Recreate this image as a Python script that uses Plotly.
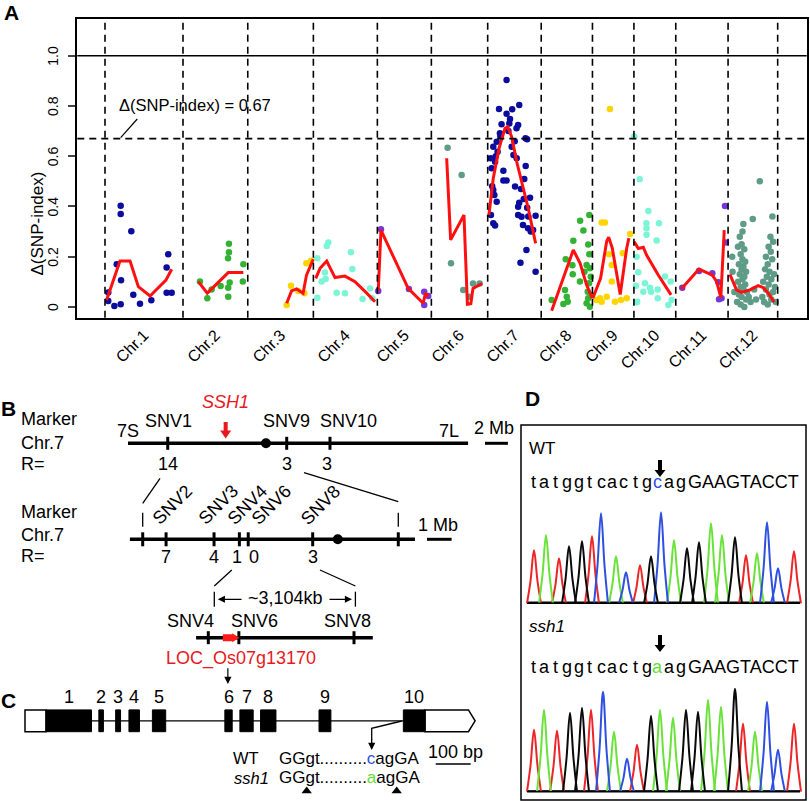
import plotly.graph_objects as go

FONT = "Liberation Sans, Arial, Helvetica, sans-serif"

# ---------------- Panel A data: delta SNP-index along the 12 rice chromosomes ----------------
chr_names = ["Chr.1", "Chr.2", "Chr.3", "Chr.4", "Chr.5", "Chr.6",
             "Chr.7", "Chr.8", "Chr.9", "Chr.10", "Chr.11", "Chr.12"]
chr_len_mb = [43.27, 35.94, 36.41, 35.50, 29.96, 31.25, 29.70, 28.44, 23.01, 23.21, 29.02, 27.53]
y_ticks = [0, 0.2, 0.4, 0.6, 0.8, 1.0]
y_tick_text = ["0", "0.2", "0.4", "0.6", "0.8", "1.0"]
threshold = 0.67

# SNP positions (Mb from chromosome start) and delta(SNP-index)
chr1_pos = [1.8, 1.8, 5.2, 8.7, 8.7, 8.7, 6.5, 8.9, 14.6, 15.7, 19.4, 25.7, 35.1, 34.2, 34.2, 37.0]
chr1_val = [0.058, 0.024, 0.004, 0.011, 0.403, 0.370, 0.170, 0.106, 0.301, 0.049, 0.013, 0.027, 0.210, 0.157, 0.057, 0.057]
chr2_pos = [9.4, 13.5, 15.9, 20.9, 25.5, 25.5, 25.0, 25.9, 25.1, 25.1, 33.5, 33.2]
chr2_val = [0.101, 0.035, 0.070, 0.084, 0.252, 0.218, 0.194, 0.097, 0.077, 0.041, 0.170, 0.101]
chr3_pos = [21.6, 24.0, 28.0, 31.4, 32.5, 35.1]
chr3_val = [0.008, 0.085, 0.064, 0.055, 0.174, 0.184]
chr4_pos = [2.2, 7.4, 8.3, 6.4, 4.6, 6.8, 2.2, 12.9, 17.5, 20.8, 21.6, 27.3, 31.4, 32.7]
chr4_val = [0.194, 0.243, 0.257, 0.137, 0.101, 0.111, 0.037, 0.057, 0.055, 0.218, 0.151, 0.032, 0.074, 0.035]
chr5_pos = [2.0, 0.5, 17.5, 26.0, 28.2, 26.0]
chr5_val = [0.309, 0.064, 0.072, 0.061, 0.044, 0.008]
chr6_pos = [9.0, 16.8, 10.9, 17.7, 23.1, 26.8, 21.4]
chr6_val = [0.634, 0.525, 0.174, 0.068, 0.093, 0.093, 0.041]
chr7_pos = [10.5, 6.3, 10.5, 12.4, 13.6, 17.5, 7.7, 6.8, 16.9, 16.0, 21.0, 21.9, 5.0, 3.1, 5.5, 1.7,
            4.1, 2.2, 8.7, 14.3, 16.1, 21.1, 8.7, 10.5, 3.1, 3.7, 5.0, 20.3, 18.5, 23.5, 17.5, 21.9,
            1.8, 16.9, 18.8, 26.6, 3.1, 4.1, 19.6, 22.4, 23.9, 25.2, 21.5, 18.2, 26.6, 15.2, 16.9,
            13.3, 11.5, 7.0, 4.5, 20.0, 22.5, 2.5, 15.0, 12.0]
chr7_val = [0.903, 0.788, 0.769, 0.748, 0.787, 0.804, 0.727, 0.691, 0.724, 0.711, 0.671, 0.667,
            0.658, 0.638, 0.618, 0.592, 0.578, 0.552, 0.542, 0.605, 0.592, 0.561, 0.503, 0.503,
            0.466, 0.446, 0.419, 0.509, 0.470, 0.435, 0.415, 0.395, 0.366, 0.366, 0.359, 0.363,
            0.333, 0.324, 0.326, 0.313, 0.300, 0.306, 0.227, 0.176, 0.140, 0.479, 0.399, 0.638,
            0.700, 0.680, 0.600, 0.430, 0.360, 0.480, 0.660, 0.730]
chr8_pos = [5.8, 12.3, 13.2, 13.6, 14.2, 14.7, 17.3, 17.5, 17.8, 21.5, 21.6, 23.4, 25.2, 25.2, 25.8,
            26.1, 26.1, 26.5, 26.7, 26.7, 27.0, 27.0, 28.0, 24.0, 27.5]
chr8_val = [0.028, 0.012, 0.068, 0.190, 0.041, 0.021, 0.166, 0.130, 0.264, 0.101, 0.343, 0.304, 0.167,
            0.015, 0.061, 0.249, 0.035, 0.094, 0.366, 0.210, 0.154, 0.001, 0.048, 0.140, 0.120]
chr9_pos = [9.7, 5.1, 6.9, 9.2, 10.7, 10.7, 16.8, 20.9, 2.3, 4.2, 7.9, 5.1, 12.5, 15.8, 19.0]
chr9_val = [0.788, 0.336, 0.336, 0.210, 0.167, 0.101, 0.214, 0.290, 0.028, 0.035, 0.041, 0.021, 0.021, 0.028, 0.035]
chr10_pos = [0.2, 3.2, 8.0, 6.9, 7.0, 7.0, 13.9, 12.6, 1.5, 2.4, 1.1, 6.1, 5.2, 8.9, 9.5, 13.2, 13.2,
             17.2, 20.4, 20.9, 19.1, 1.8, 1.5]
chr10_val = [0.678, 0.508, 0.382, 0.333, 0.313, 0.287, 0.333, 0.265, 0.200, 0.138, 0.085, 0.094, 0.061,
             0.077, 0.061, 0.070, 0.035, 0.121, 0.101, 0.028, 0.008, 0.021, 0.019]
chr11_pos = [3.6, 12.9, 20.3, 23.6, 27.3, 27.7, 24.0, 25.4]
chr11_val = [0.077, 0.143, 0.134, 0.098, 0.402, 0.257, 0.031, 0.035]
chr12_pos = [2.3, 2.5, 3.5, 5.0, 5.5, 5.5, 6.0, 6.0, 6.5, 6.5, 7.0, 7.0, 7.0, 7.5, 7.5, 7.5, 8.0, 8.0,
             8.0, 8.5, 8.5, 8.5, 9.0, 9.0, 9.0, 9.5, 9.5, 10.0, 10.0, 10.5, 11.5, 12.5, 13.7, 14.5,
             15.5, 17.6, 19.0, 19.5, 20.0, 20.5, 21.0, 21.0, 21.5, 22.0, 22.0, 22.5, 22.5, 23.0, 23.0,
             23.5, 23.7, 24.0, 24.0, 24.6, 24.5, 25.0, 25.0, 25.5, 26.0, 26.5]
chr12_val = [0.20, 0.14, 0.06, 0.02, 0.10, 0.24, 0.05, 0.17, 0.13, 0.28, 0.01, 0.08, 0.21, 0.15, 0.25,
             0.04, 0.11, 0.19, 0.30, 0.07, 0.33, 0.16, 0.00, 0.12, 0.23, 0.09, 0.18, 0.03, 0.14, 0.06,
             0.04, 0.02, 0.35, 0.07, 0.03, 0.50, 0.04, 0.10, 0.02, 0.15, 0.07, 0.20, 0.12, 0.01, 0.17,
             0.09, 0.24, 0.05, 0.14, 0.28, 0.22, 0.03, 0.11, 0.36, 0.19, 0.06, 0.26, 0.13, 0.08, 0.02]

# sliding-window fit (red line) per chromosome
chr1_fit_pos = [0.9, 8.3, 13.9, 18.5, 25.0, 33.8, 37.0]
chr1_fit_val = [0.028, 0.183, 0.183, 0.081, 0.044, 0.107, 0.150]
chr2_fit_pos = [8.5, 13.5, 25.1, 33.5]
chr2_fit_val = [0.101, 0.055, 0.137, 0.137]
chr3_fit_pos = [21.6, 24.3, 27.1, 30.7, 32.6, 36.3]
chr3_fit_val = [0.015, 0.064, 0.072, 0.055, 0.127, 0.190]
chr4_fit_pos = [1.3, 3.7, 7.4, 12.0, 17.5, 23.1, 29.6, 34.2]
chr4_fit_val = [0.114, 0.154, 0.183, 0.117, 0.123, 0.101, 0.055, 0.021]
chr5_fit_pos = [0.5, 2.0, 17.1, 25.4, 26.7, 28.2]
chr5_fit_val = [0.064, 0.306, 0.074, 0.015, 0.055, 0.041]
chr6_fit_pos = [8.5, 10.7, 18.1, 20.0, 21.9, 23.1, 25.9, 28.2]
chr6_fit_val = [0.592, 0.267, 0.366, 0.011, 0.013, 0.074, 0.085, 0.093]
chr7_fit_pos = [0.7, 3.1, 6.3, 9.6, 11.1, 13.3, 16.1, 18.9, 22.5, 26.6]
chr7_fit_val = [0.366, 0.512, 0.631, 0.711, 0.717, 0.678, 0.578, 0.492, 0.393, 0.253]
chr8_fit_pos = [5.8, 17.8, 21.6, 25.2, 28.3]
chr8_fit_val = [-0.015, 0.227, 0.174, 0.088, 0.035]
chr9_fit_pos = [0.2, 4.5, 7.9, 9.0, 11.0, 15.4, 19.0, 20.2]
chr9_fit_val = [0.035, 0.114, 0.262, 0.278, 0.234, 0.050, 0.234, 0.274]
chr10_fit_pos = [0.2, 2.4, 5.2, 7.0, 13.5, 20.6]
chr10_fit_val = [0.260, 0.233, 0.238, 0.207, 0.127, 0.048]
chr11_fit_pos = [3.1, 12.9, 20.3, 22.7, 25.0, 26.9]
chr11_fit_val = [0.072, 0.151, 0.127, 0.101, 0.037, 0.306]
chr12_fit_pos = [1.0, 4.7, 7.5, 12.1, 16.7, 19.5, 22.3, 25.6]
chr12_fit_val = [0.130, 0.068, 0.058, 0.068, 0.085, 0.077, 0.055, 0.019]

# ---------------- Panel B data: fine mapping on chromosome 7 ----------------
chr7_len = 29.7
chr7_centromere = 12.05
coarse_markers = ["SNV1", "SNV9", "SNV10"]
coarse_mb = [3.47, 13.86, 17.64]
coarse_r = ["14", "3", "3"]
ssh1_mb = 8.53

fine_markers = ["", "SNV2", "SNV3", "SNV4", "SNV6", "SNV8", ""]
fine_mb = [3.47, 4.42, 6.37, 7.40, 7.76, 10.38, 13.86]
fine_r = ["", "7", "4", "1", "0", "3", ""]
fine_centromere = 11.40
fine_view = [2.95, 14.54]

region_markers = ["SNV4", "SNV6", "SNV8"]
region_mb = [7.40, 8.05, 10.50]
region_view = [7.14, 10.90]
region_label = "~3,104kb"
gene_name = "LOC_Os07g13170"
gene_mb = [7.71, 8.06]

# ---------------- Panel C data: gene model (bp) ----------------
exon_labels = ["1", "2", "3", "4", "5", "6", "7", "8", "9", "10"]
exon_start = [60, 211, 259, 297, 364, 571, 614, 673, 840, 1081]
exon_end = [190, 224, 273, 327, 402, 592, 652, 717, 874, 1143]
utr5 = [0, 60]
utr3 = [1143, 1267, 1286]
wt_site = ["GGgt..........", "c", "agGA"]
mut_site = ["GGgt..........", "a", "agGA"]

# ---------------- Panel D data: Sanger chromatograms ----------------
wt_seq = "tatggtcactgcagGAAGTACCT"
mut_seq = "tatggtcactgaagGAAGTACCT"
snp_idx = 11
wt_peak_scan = [13, 25, 38, 48, 61, 71, 80, 95, 105, 119, 130, 140, 153, 166, 178, 190, 201, 214, 225, 236, 246, 257, 273]
wt_peak_h = [53, 68, 45, 57, 62, 67, 90, 47, 31, 38, 47, 91, 63, 55, 61, 80, 68, 66, 48, 50, 81, 35, 52]
mut_peak_scan = [13, 23, 36, 49, 61, 70, 82, 93, 106, 116, 130, 139, 152, 165, 177, 187, 200, 214, 222, 234, 246, 257, 273]
mut_peak_h = [62, 82, 61, 79, 84, 82, 100, 60, 33, 47, 76, 82, 74, 82, 80, 92, 85, 103, 68, 60, 90, 42, 68]

# ---------------- styles ----------------
palette = ["#0B0B9E", "#34B234", "#FFD400", "#7CF5D6", "#7238DB", "#5E9C88"]
base_color = {"t": "#EC2528", "a": "#69E23A", "c": "#2E4FE0", "g": "#0A0A0A"}
snp_color = {"c": "#3050E0", "a": "#66DD33"}
DASH = "7px,5px"
TS = 18  # text size in panels B-D

fig = go.Figure()

# ===== Panel A =====
cum = [0.0]
for L in chr_len_mb:
    cum.append(cum[-1] + L)
centers = [(cum[i] + cum[i + 1]) / 2 for i in range(len(chr_len_mb))]

snp_pos = [chr1_pos, chr2_pos, chr3_pos, chr4_pos, chr5_pos, chr6_pos,
           chr7_pos, chr8_pos, chr9_pos, chr10_pos, chr11_pos, chr12_pos]
snp_val = [chr1_val, chr2_val, chr3_val, chr4_val, chr5_val, chr6_val,
           chr7_val, chr8_val, chr9_val, chr10_val, chr11_val, chr12_val]
fit_pos = [chr1_fit_pos, chr2_fit_pos, chr3_fit_pos, chr4_fit_pos, chr5_fit_pos, chr6_fit_pos,
           chr7_fit_pos, chr8_fit_pos, chr9_fit_pos, chr10_fit_pos, chr11_fit_pos, chr12_fit_pos]
fit_val = [chr1_fit_val, chr2_fit_val, chr3_fit_val, chr4_fit_val, chr5_fit_val, chr6_fit_val,
           chr7_fit_val, chr8_fit_val, chr9_fit_val, chr10_fit_val, chr11_fit_val, chr12_fit_val]

for i in range(12):
    fig.add_trace(go.Scatter(x=[cum[i] + p for p in snp_pos[i]], y=snp_val[i], mode="markers",
                             marker=dict(size=6.5, color=palette[i % 6]), hoverinfo="skip"))
for i in range(12):
    fig.add_trace(go.Scatter(x=[cum[i] + p for p in fit_pos[i]], y=fit_val[i], mode="lines",
                             line=dict(color="#FF1010", width=3), hoverinfo="skip"))

for b in cum:
    fig.add_shape(type="line", xref="x", yref="y domain", x0=b, x1=b, y0=0, y1=1,
                  line=dict(color="black", width=1.6, dash=DASH))
fig.add_shape(type="line", xref="x domain", yref="y", x0=0, x1=1, y0=threshold, y1=threshold,
              line=dict(color="black", width=1.6, dash=DASH))
fig.add_shape(type="line", xref="x domain", yref="y", x0=0, x1=1, y0=1.0, y1=1.0,
              line=dict(color="black", width=1.5))
fig.add_shape(type="line", xref="x", yref="y", x0=8.7, y0=threshold + 0.004, x1=17.9, y1=0.748,
              line=dict(color="black", width=1.2))
fig.add_annotation(x=6.5, y=0.805, xref="x", yref="y", text="\u0394(SNP-index) = 0.67", showarrow=False,
                   xanchor="left", yanchor="middle", font=dict(size=16.5, family=FONT, color="black"))
fig.add_annotation(x=26 / 810, y=1 - 170 / 801, xref="paper", yref="paper", text="\u0394(SNP-index)",
                   textangle=-90, showarrow=False, font=dict(size=17, family=FONT, color="black"))
for v, lab in zip(y_ticks, y_tick_text):
    fig.add_annotation(x=53 / 810, y=v, xref="paper", yref="y", text=lab, textangle=-90,
                       showarrow=False, xanchor="center", yanchor="middle",
                       font=dict(size=14, family=FONT, color="black"))

# ===== helpers in pixel space (x2/y2) =====
def line(xs, ys, color="black", width=1.2):
    fig.add_trace(go.Scatter(x=xs, y=ys, mode="lines", line=dict(color=color, width=width),
                             xaxis="x2", yaxis="y2", hoverinfo="skip"))


def text(x, y, s, size=TS, color="black", xanchor="center", angle=0):
    fig.add_annotation(x=x, y=y, xref="x2", yref="y2", text=s, showarrow=False, textangle=angle,
                       xanchor=xanchor, yanchor="middle", borderpad=0,
                       font=dict(size=size, color=color, family=FONT))


def arrow(x0, y0, x1, y1, color="black", width=1.2, head=2, size=1.0):
    fig.add_annotation(x=x1, y=y1, ax=x0, ay=y0, xref="x2", yref="y2", axref="x2", ayref="y2",
                       text="", showarrow=True, arrowhead=head, arrowsize=size, arrowwidth=width,
                       arrowcolor=color, standoff=0, startstandoff=0)


def block_down(x, y0, y1, color, shaft=4, head=11, head_len=8):
    yh = y1 - head_len
    p = (f"M{x - shaft / 2},{y0} L{x + shaft / 2},{y0} L{x + shaft / 2},{yh} L{x + head / 2},{yh} "
         f"L{x},{y1} L{x - head / 2},{yh} L{x - shaft / 2},{yh} Z")
    fig.add_shape(type="path", xref="x2", yref="y2", path=p, fillcolor=color, line=dict(width=0))


def block_right(x0, x1, y, color, shaft=7, head=9, head_len=7):
    xh = x1 - head_len
    p = (f"M{x0},{y - shaft / 2} L{xh},{y - shaft / 2} L{xh},{y - head / 2} L{x1},{y} "
         f"L{xh},{y + head / 2} L{xh},{y + shaft / 2} L{x0},{y + shaft / 2} Z")
    fig.add_shape(type="path", xref="x2", yref="y2", path=p, fillcolor=color, line=dict(width=0))


# ===== Panel B =====
text(8, 408, "<b>B</b>", size=21)
for yy, lab in [(419, "Marker"), (442.5, "Chr.7"), (463.5, "R=")]:
    text(20, yy, lab, xanchor="left")
for yy, lab in [(512, "Marker"), (535, "Chr.7"), (555.5, "R=")]:
    text(20, yy, lab, xanchor="left")

B1_X0, B1_S, B1_Y = 128.0, 11.45, 443.3
b1 = lambda mb: B1_X0 + mb * B1_S
line([b1(0), b1(chr7_len)], [B1_Y, B1_Y], width=3.5)
for name, mb, r, ldx, rdx in zip(coarse_markers, coarse_mb, coarse_r, [1, 0, 19], [0, 0, -3]):
    line([b1(mb), b1(mb)], [B1_Y - 6.5, B1_Y + 6.5], width=3)
    text(b1(mb) + ldx, 421, name)
    text(b1(mb) + rdx, 464, r)
fig.add_trace(go.Scatter(x=[b1(chr7_centromere)], y=[B1_Y], mode="markers", xaxis="x2", yaxis="y2",
                         marker=dict(size=10, color="black"), hoverinfo="skip"))
text(b1(0), 431, "7S")
text(b1(chr7_len) - 8, 431, "7L", xanchor="right")
text(b1(ssh1_mb), 402, "<i>SSH1</i>", color="#E8191E")
block_down(b1(ssh1_mb), 422, 438.5, "#E8191E", shaft=4, head=11, head_len=8)
line([485, 485 + 2 * B1_S], [B1_Y, B1_Y], width=3)
text(494, 428, "2 Mb")

B2_REF, B2_X0, B2_S, B2_Y = 3.47, 142.7, 24.6, 539.3
b2 = lambda mb: B2_X0 + (mb - B2_REF) * B2_S
line([b2(fine_view[0]), b2(fine_view[1])], [B2_Y, B2_Y], width=3.5)
fine_label_dx = [0, 6, 4, 8, 23, 8, 0]
fine_r_dx = [0, 0, 0, -2, 6, 0, 0]
for name, mb, r, ldx, rdx in zip(fine_markers, fine_mb, fine_r, fine_label_dx, fine_r_dx):
    line([b2(mb), b2(mb)], [B2_Y - 7, B2_Y + 7], width=3)
    if name:
        text(b2(mb) + ldx, 505, name, angle=-45)
        text(b2(mb) + rdx, 557, r)
    else:
        line([b2(mb), b2(mb)], [512.7, 526.7], width=1.3)
fig.add_trace(go.Scatter(x=[b2(fine_centromere)], y=[B2_Y], mode="markers", xaxis="x2", yaxis="y2",
                         marker=dict(size=10, color="black"), hoverinfo="skip"))
line([427, 427 + B2_S], [B2_Y, B2_Y], width=3)
text(438, 525, "1 Mb")
line([b1(coarse_mb[0]) - 7.7, b2(fine_mb[0])], [478.3, 503.3], width=1.3)
line([304, b2(fine_mb[-1])], [472.7, 501.7], width=1.3)

B3_REF, B3_X0, B3_S, B3_Y = 7.40, 208.3, 47.0, 637.7
b3 = lambda mb: B3_X0 + (mb - B3_REF) * B3_S
line([b2(fine_mb[3]) - 7.6, b3(region_mb[0]) + 6], [570, 586], width=1.3)
line([b2(fine_mb[5]) + 7.3, b3(region_mb[2]) + 1.4], [570, 586], width=1.3)
for xb in [b3(region_mb[0]) + 6, b3(region_mb[2]) + 1.4]:
    line([xb, xb], [591.7, 606.7], width=1.3)
arrow(243, 599.3, b3(region_mb[0]) + 9.5, 599.3, width=1.3, head=2, size=1.1)
arrow(328, 599.3, b3(region_mb[2]) - 2, 599.3, width=1.3, head=2, size=1.1)
text(285.5, 598, region_label)
line([b3(region_view[0]), b3(region_view[1])], [B3_Y, B3_Y], width=3.5)
for name, mb, ldx in zip(region_markers, region_mb, [-18, 16, -7]):
    line([b3(mb), b3(mb)], [B3_Y - 6.5, B3_Y + 6.5], width=3)
    text(b3(mb) + ldx, 621, name)
block_right(b3(gene_mb[0]), b3(gene_mb[1]), B3_Y, "#FF1A1A")
text(240.5, 658, gene_name, color="#E8191E")
arrow(b3(gene_mb[0]) + 5, 666.7, b3(gene_mb[0]) + 5, 684, width=1.2, head=2, size=1.2)

# ===== Panel C =====
C_X0, C_S, C_Y, C_HH = 25.0, 0.35, 720.8, 10.9
cx = lambda bp: C_X0 + bp * C_S
text(8, 700, "<b>C</b>", size=21)
line([cx(exon_end[0]), cx(exon_start[-1])], [C_Y, C_Y], width=1.3)
fig.add_shape(type="rect", xref="x2", yref="y2", x0=cx(utr5[0]), x1=cx(utr5[1]), y0=C_Y - C_HH, y1=C_Y + C_HH,
              line=dict(color="black", width=1.5), fillcolor="white")
fig.add_shape(type="path", xref="x2", yref="y2",
              path=f"M{cx(utr3[0])},{C_Y - C_HH} L{cx(utr3[1])},{C_Y - C_HH} L{cx(utr3[2])},{C_Y} "
                   f"L{cx(utr3[1])},{C_Y + C_HH} L{cx(utr3[0])},{C_Y + C_HH} Z",
              line=dict(color="black", width=1.5), fillcolor="white")
for lab, s, e in zip(exon_labels, exon_start, exon_end):
    fig.add_shape(type="rect", xref="x2", yref="y2", x0=cx(s), x1=cx(e), y0=C_Y - C_HH, y1=C_Y + C_HH,
                  line=dict(color="black", width=1), fillcolor="black")
    text((cx(s) + cx(e)) / 2, 696.7, lab)
line([cx(exon_start[-1]) - 1.5, 371.7, 371.7], [721, 728.3, 740], width=1.3)
arrow(371.7, 738, 371.7, 750, width=1.3, head=2, size=1.1)
text(232, 758, "WT", size=16.5, xanchor="left")
text(233, 777.5, "<i>ssh1</i>", size=16.5, xanchor="left")
text(278, 758, f"{wt_site[0]}<span style='color:#3050E0'>{wt_site[1]}</span>{wt_site[2]}", size=17, xanchor="left")
text(278, 777.5, f"{mut_site[0]}<span style='color:#66DD33'>{mut_site[1]}</span>{mut_site[2]}", size=17, xanchor="left")
text(455, 752, "100 bp")
line([435.7, 435.7 + 100 * C_S], [764, 764], width=1.6)
fig.add_trace(go.Scatter(x=[306.7, 396.7], y=[791, 791], mode="markers", xaxis="x2", yaxis="y2",
                         marker=dict(symbol="triangle-up", size=9, color="black"), hoverinfo="skip"))

# ===== Panel D =====
D_X0 = 521.0
text(532, 398, "<b>D</b>", size=21)
fig.add_shape(type="rect", xref="x2", yref="y2", x0=521, x1=806, y0=425, y1=800,
              line=dict(color="black", width=1.5))
PEAK_DX = [-7, -3.5, 0, 3.5, 7]
PEAK_FR = [0, 0.42, 1, 0.42, 0]


def chromatogram(seq, scans, heights, base_y, seq_y, label, label_y, arrow_y):
    text(528, label_y, label, size=17, xanchor="left")
    block_down(D_X0 + 139, arrow_y, arrow_y + 17, "black", shaft=4, head=11, head_len=7)
    for i, ch in enumerate(seq[:14]):
        col = snp_color.get(ch, "black") if i == snp_idx else "black"
        text(533.3 + 11.33 * i, seq_y, ch, color=col)
    text(686.5, seq_y, seq[14:], xanchor="left")
    for col in base_color.values():
        line([D_X0 + 6, D_X0 + 279], [base_y - 0.8, base_y - 0.8], color=col, width=1.3)
    for b, col in base_color.items():
        xs, ys = [], []
        for ch, s, h in zip(seq, scans, heights):
            if ch.lower() != b:
                continue
            xs += [D_X0 + s + d for d in PEAK_DX] + [None]
            ys += [base_y - h * f for f in PEAK_FR] + [None]
        fig.add_trace(go.Scatter(x=xs, y=ys, mode="lines", line=dict(color=col, width=2, shape="spline"),
                                 xaxis="x2", yaxis="y2", hoverinfo="skip", connectgaps=False))
    line([D_X0 + 6, D_X0 + 279], [base_y, base_y], color="black", width=1.6)


chromatogram(wt_seq, wt_peak_scan, wt_peak_h, 603.3, 481.5, "WT", 448.5, 460)
chromatogram(mut_seq, mut_peak_scan, mut_peak_h, 791.7, 667, "<i>ssh1</i>", 626, 635)

text(11, 12.5, "<b>A</b>", size=21)

fig.update_layout(
    width=810, height=801, margin=dict(l=0, r=0, t=0, b=0), autosize=False,
    paper_bgcolor="white", plot_bgcolor="rgba(0,0,0,0)", showlegend=False,
    font=dict(family=FONT, color="black"),
    xaxis=dict(domain=[77.3 / 810, 806.7 / 810], range=[-15.37, 389.34], anchor="y",
               showline=True, linewidth=2, linecolor="black", mirror=True, showgrid=False,
               zeroline=False, tickmode="array", tickvals=centers, ticktext=chr_names,
               tickangle=-45, ticks="", tickfont=dict(size=16)),
    yaxis=dict(domain=[1 - 317.7 / 801, 1 - 19 / 801], range=[-0.0426, 1.146], anchor="x",
               showline=True, linewidth=2, linecolor="black", mirror=True, showgrid=False,
               zeroline=False, tickmode="array", tickvals=y_ticks, showticklabels=False,
               ticks="outside", ticklen=7, tickwidth=1.5),
    xaxis2=dict(domain=[0, 1], range=[0, 810], visible=False, anchor="y2", fixedrange=True),
    yaxis2=dict(domain=[0, 1], range=[801, 0], visible=False, anchor="x2", fixedrange=True),
)

fig.write_html("out.html", config={"displayModeBar": False},
               post_script="document.body.style.margin='0px';")
